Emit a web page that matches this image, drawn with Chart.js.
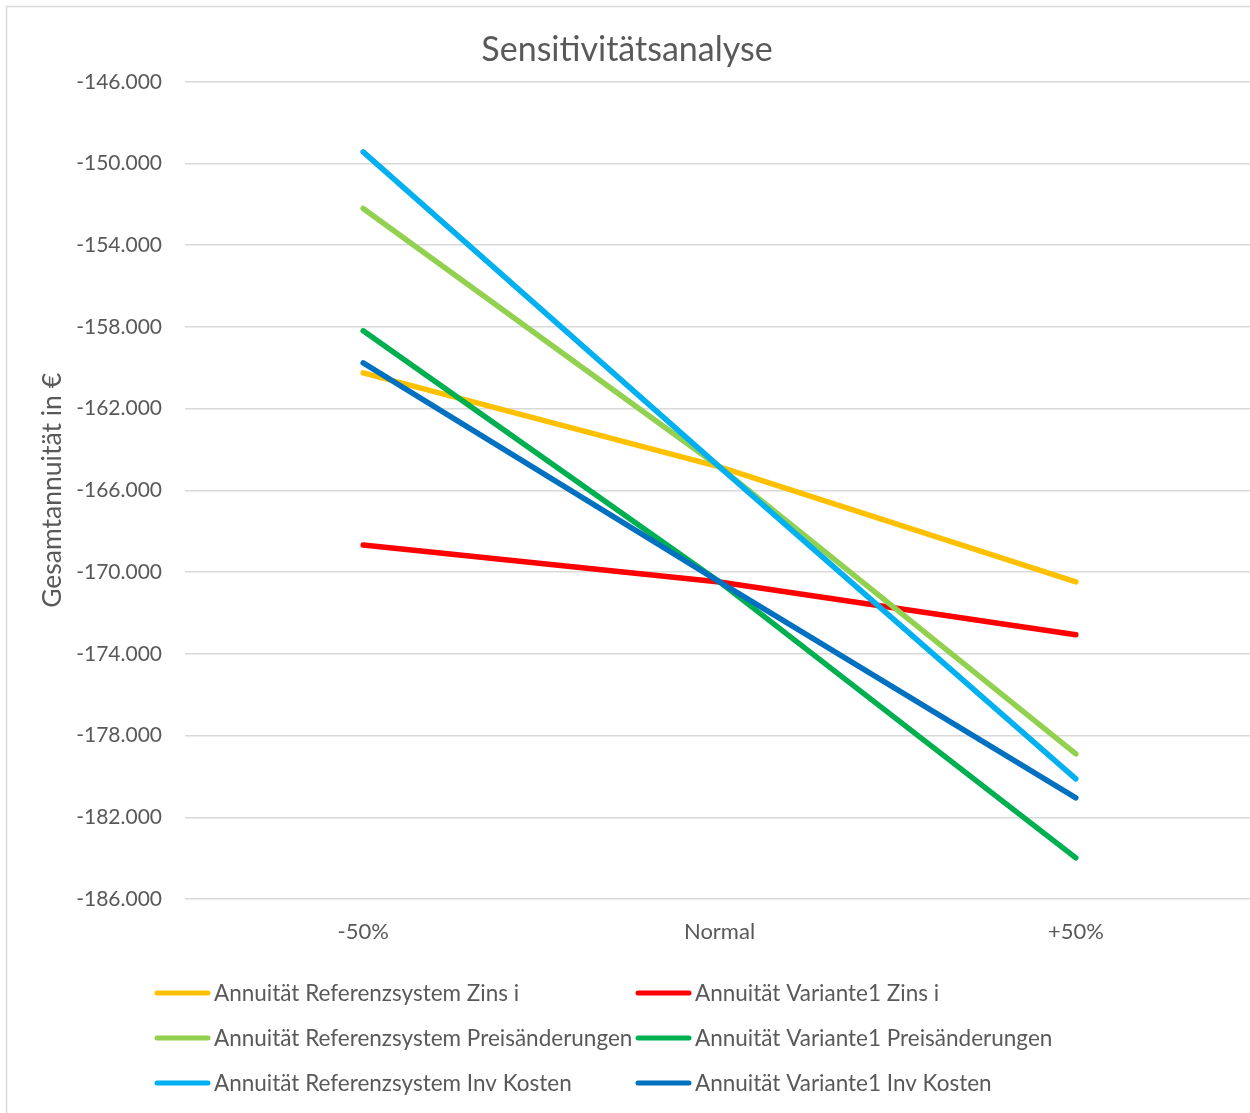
<!DOCTYPE html>
<html lang="de">
<head>
  <meta charset="UTF-8" />
  <title>Sensitivitätsanalyse</title>
  <script src="https://cdn.jsdelivr.net/npm/chart.js"></script>
  <style>
    html,body{margin:0;padding:0;background:#fff;overflow:hidden;}
    canvas{display:block;}
  </style>
</head>
<body>
<canvas id="chart" width="1256" height="1113"></canvas>
<script>
// ── data ─────────────────────────────────────────────────────────────────
const categories = ['-50%', 'Normal', '+50%'];

const refZins   = [-160250, -164850, -170480];
const var1Zins  = [-168670, -170480, -173070];
const refPreis  = [-152200, -164850, -178900];
const var1Preis = [-158190, -170480, -183990];
const refInv    = [-149430, -164850, -180120];
const var1Inv   = [-159760, -170480, -181050];

const seriesNames = [
  'Annuität Referenzsystem Zins i',
  'Annuität Variante1 Zins i',
  'Annuität Referenzsystem Preisänderungen',
  'Annuität Variante1 Preisänderungen',
  'Annuität Referenzsystem Inv Kosten',
  'Annuität Variante1 Inv Kosten'
];
const seriesData   = [refZins, var1Zins, refPreis, var1Preis, refInv, var1Inv];
const seriesColors = ['#FFC000', '#FF0000', '#92D050', '#00B050', '#00B0F0', '#0070C0'];

const yMin = -186000, yMax = -146000, yStep = 4000;

const textColor = '#595959';
const fontFamily = 'Lato, "Open Sans", sans-serif';

// German thousands separator: -146000 -> -146.000
function fmt(v){
  const s = Math.abs(Math.round(v)).toString().replace(/\B(?=(\d{3})+(?!\d))/g, '.');
  return (v < 0 ? '-' : '') + s;
}

// ── frame + two-column legend (Excel style) ──────────────────────────────
const excelDecor = {
  id: 'excelDecor',
  beforeDraw(chart){
    const c = chart.ctx;
    c.save();
    c.strokeStyle = '#d9d9d9';
    c.lineWidth = 1.5;
    c.strokeRect(6.5, 6.5, 1400, 1200);
    c.restore();
  },
  afterDraw(chart){
    const c = chart.ctx;
    const cols = [155, 636];
    const rows = [993, 1038, 1083];
    c.save();
    c.font = '22.5px ' + fontFamily;
    c.textBaseline = 'middle';
    c.fillStyle = textColor;
    c.lineCap = 'round';
    c.lineWidth = 5;
    seriesNames.forEach((name, i) => {
      const x = cols[i % 2], y = rows[Math.floor(i / 2)];
      c.strokeStyle = seriesColors[i];
      c.beginPath();
      c.moveTo(x + 2, y);
      c.lineTo(x + 53, y);
      c.stroke();
      c.fillText(name, x + 59, y + 1);
    });
    c.restore();
  }
};

new Chart(document.getElementById('chart'), {
  type: 'line',
  data: {
    labels: categories,
    datasets: seriesData.map((d, i) => ({
      label: seriesNames[i],
      data: d,
      borderColor: seriesColors[i],
      backgroundColor: seriesColors[i],
      borderWidth: 5.5,
      borderCapStyle: 'round',
      pointRadius: 0,
      tension: 0,
      order: seriesData.length - i   // later series on top, like Excel
    }))
  },
  options: {
    responsive: false,
    animation: false,
    layout: { padding: { left: 0, right: 2, top: 0, bottom: 0 } },
    plugins: {
      legend: { display: false },
      tooltip: { enabled: false },
      title: {
        display: true,
        text: 'Sensitivitätsanalyse',
        color: textColor,
        font: { family: fontFamily, size: 34, weight: 'normal' },
        padding: { top: 30, bottom: 11 }
      }
    },
    scales: {
      x: {
        offset: true,
        grid: { display: false },
        border: { display: false },
        ticks: { color: textColor, font: { family: fontFamily, size: 22 }, padding: 12 },
        afterFit(scale){ scale.height = 214; }
      },
      y: {
        min: yMin,
        max: yMax,
        grid: { color: '#d9d9d9', lineWidth: 1.5, drawTicks: false },
        border: { display: false },
        ticks: {
          stepSize: yStep,
          color: textColor,
          font: { family: fontFamily, size: 21 },
          padding: 23,
          callback: v => fmt(v)
        },
        title: {
          display: true,
          text: 'Gesamtannuität in €',
          color: textColor,
          font: { family: fontFamily, size: 26.5 },
          padding: { top: 37, bottom: 0 }
        },
        afterFit(scale){ scale.width = 185; }
      }
    }
  },
  plugins: [excelDecor]
});
</script>
</body>
</html>
